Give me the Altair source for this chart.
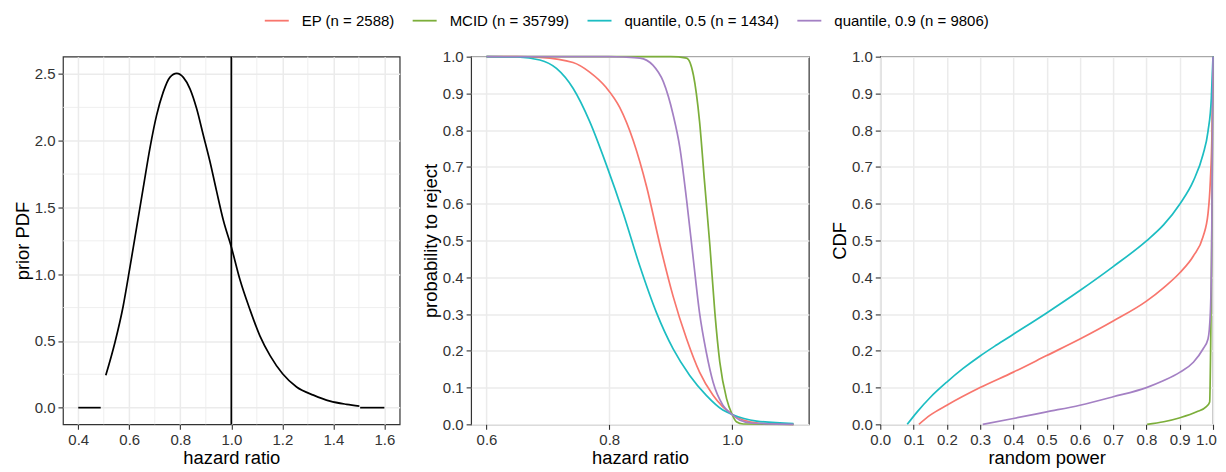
import altair as alt
import pandas as pd

FONT = "Liberation Sans"

SERIES = ["EP (n = 2588)", "MCID (n = 35799)", "quantile, 0.5 (n = 1434)", "quantile, 0.9 (n = 9806)"]
COLORS = ["#F8766D", "#7CAE3A", "#1CBDC2", "#A480C4"]

# ---- left panel: prior PDF ----
PRIOR_HR = [0.508, 0.544, 0.576, 0.603, 0.629, 0.655, 0.681, 0.707, 0.733, 0.759, 0.786,
            0.812, 0.838, 0.864, 0.890, 0.916, 0.942, 0.969, 1.0, 1.034, 1.073, 1.112,
            1.152, 1.201, 1.256, 1.322, 1.387, 1.452, 1.502]
PRIOR_PDF = [0.242, 0.49, 0.76, 1.056, 1.352, 1.65, 1.945, 2.19, 2.364, 2.475, 2.505,
             2.475, 2.389, 2.241, 2.043, 1.846, 1.624, 1.402, 1.204, 0.958, 0.735, 0.538,
             0.39, 0.254, 0.155, 0.094, 0.049, 0.025, 0.012]
LOW_HR = [0.4, 0.488]
LOW_PDF = [0.0, 0.0]
HIGH_HR = [1.505, 1.6]
HIGH_PDF = [0.0, 0.0]
NULL_HR = [1.0]
LEFT_X_TICKS = [0.4, 0.6, 0.8, 1.0, 1.2, 1.4, 1.6]
LEFT_X_MINOR = [0.5, 0.7, 0.9, 1.1, 1.3, 1.5]
LEFT_Y_TICKS = [0.0, 0.5, 1.0, 1.5, 2.0, 2.5]
LEFT_Y_MINOR = [0.25, 0.75, 1.25, 1.75, 2.25]

# ---- middle panel: probability to reject ----
EP_HR = [0.60, 0.65, 0.687, 0.741, 0.768, 0.795, 0.817, 0.839, 0.861, 0.882, 0.904, 0.926,
         0.947, 0.969, 1.0, 1.018, 1.045, 1.10]
EP_REJ = [1.0, 1.0, 0.998, 0.984, 0.958, 0.916, 0.862, 0.772, 0.645, 0.492, 0.348, 0.232,
          0.142, 0.079, 0.027, 0.012, 0.003, 0.0]
MCID_HR = [0.60, 0.90, 0.926, 0.937, 0.947, 0.955, 0.964, 0.972, 0.980, 0.991, 1.0, 1.007,
           1.018, 1.10]
MCID_REJ = [1.0, 1.0, 0.996, 0.95, 0.824, 0.662, 0.483, 0.303, 0.169, 0.07, 0.027, 0.007,
            0.001, 0.0]
Q5_HR = [0.60, 0.65, 0.687, 0.714, 0.741, 0.768, 0.795, 0.823, 0.850, 0.877, 0.904, 0.931,
         0.958, 0.985, 1.0, 1.04, 1.10]
Q5_REJ = [1.0, 0.999, 0.991, 0.968, 0.914, 0.824, 0.707, 0.573, 0.429, 0.303, 0.205, 0.133,
          0.079, 0.039, 0.027, 0.009, 0.002]
Q9_HR = [0.60, 0.80, 0.823, 0.850, 0.871, 0.888, 0.904, 0.915, 0.926, 0.937, 0.947, 0.958,
         0.969, 0.985, 1.0, 1.012, 1.034, 1.10]
Q9_REJ = [1.0, 1.0, 0.999, 0.996, 0.977, 0.932, 0.842, 0.752, 0.609, 0.447, 0.303, 0.196,
          0.115, 0.052, 0.027, 0.012, 0.003, 0.0]
MID_X_TICKS = [0.6, 0.8, 1.0]
PROB_TICKS = [0.0, 0.1, 0.2, 0.3, 0.4, 0.5, 0.6, 0.7, 0.8, 0.9, 1.0]

# ---- right panel: CDF of random power ----
EP_POW = [0.116, 0.150, 0.2, 0.3, 0.4, 0.5, 0.6, 0.7, 0.8, 0.852, 0.901, 0.941, 0.970,
          0.985, 0.992, 0.997, 1.0]
EP_CDF = [0.0, 0.025, 0.052, 0.1, 0.142, 0.187, 0.232, 0.281, 0.335, 0.372, 0.413, 0.458,
          0.51, 0.573, 0.662, 0.797, 1.0]
MCID_POW = [0.802, 0.852, 0.901, 0.951, 0.980, 0.990, 0.993, 0.997, 1.0]
MCID_CDF = [0.0, 0.007, 0.018, 0.034, 0.048, 0.061, 0.214, 0.573, 1.0]
Q5_POW = [0.081, 0.111, 0.150, 0.2, 0.249, 0.3, 0.348, 0.4, 0.5, 0.6, 0.7, 0.8, 0.852,
          0.901, 0.941, 0.970, 0.985, 0.995, 1.0]
Q5_CDF = [0.0, 0.034, 0.073, 0.115, 0.152, 0.186, 0.215, 0.245, 0.303, 0.364, 0.429, 0.499,
          0.543, 0.6, 0.662, 0.734, 0.797, 0.887, 1.0]
Q9_POW = [0.308, 0.4, 0.5, 0.6, 0.7, 0.8, 0.852, 0.901, 0.941, 0.970, 0.985, 0.992, 0.996, 1.0]
Q9_CDF = [0.0, 0.016, 0.034, 0.052, 0.075, 0.1, 0.119, 0.142, 0.169, 0.205, 0.232, 0.303,
          0.483, 1.0]


def long_df(pairs, xname, yname):
    rows = []
    for name, xs, ys in pairs:
        for i, (a, b) in enumerate(zip(xs, ys)):
            rows.append({"series": name, xname: a, yname: b, "i": i})
    return pd.DataFrame(rows)


prior_df = pd.concat([
    pd.DataFrame({"hr": LOW_HR, "pdf": LOW_PDF, "seg": "low"}),
    pd.DataFrame({"hr": PRIOR_HR, "pdf": PRIOR_PDF, "seg": "mid"}),
    pd.DataFrame({"hr": HIGH_HR, "pdf": HIGH_PDF, "seg": "high"}),
], ignore_index=True)
prior_df["i"] = range(len(prior_df))

power_df = long_df([
    (SERIES[0], EP_HR, EP_REJ),
    (SERIES[1], MCID_HR, MCID_REJ),
    (SERIES[2], Q5_HR, Q5_REJ),
    (SERIES[3], Q9_HR, Q9_REJ),
], "hr", "p")

cdf_df = long_df([
    (SERIES[0], EP_POW, EP_CDF),
    (SERIES[1], MCID_POW, MCID_CDF),
    (SERIES[2], Q5_POW, Q5_CDF),
    (SERIES[3], Q9_POW, Q9_CDF),
], "pow", "cdf")

H = 368
GRID = "#EBEBEB"
LW = 1.7

color = alt.Color(
    "series:N",
    scale=alt.Scale(domain=SERIES, range=COLORS),
    legend=alt.Legend(
        title=None, orient="none", direction="horizontal",
        legendX=201, legendY=-49,
        symbolType="stroke", symbolSize=576, symbolStrokeWidth=1.8,
        labelFont=FONT, labelFontSize=15, labelColor="#000000",
        labelOffset=12, columnPadding=14, padding=0, labelLimit=300,
    ),
)

# left panel
lx = alt.X("hr:Q", title="hazard ratio",
           scale=alt.Scale(domain=[0.34, 1.66], nice=False, zero=False),
           axis=alt.Axis(values=LEFT_X_TICKS, format=".1f"))
ly = alt.Y("pdf:Q", title="prior PDF",
           scale=alt.Scale(domain=[-0.125, 2.63], nice=False, zero=False),
           axis=alt.Axis(values=LEFT_Y_TICKS, format=".1f"))

minor_x = alt.Chart(pd.DataFrame({"hr": LEFT_X_MINOR})).mark_rule(
    color=GRID, strokeWidth=0.8).encode(x=alt.X("hr:Q"))
minor_y = alt.Chart(pd.DataFrame({"pdf": LEFT_Y_MINOR})).mark_rule(
    color=GRID, strokeWidth=0.8).encode(y=alt.Y("pdf:Q"))
vline = alt.Chart(pd.DataFrame({"hr": NULL_HR})).mark_rule(
    color="#000000", strokeWidth=LW).encode(x=alt.X("hr:Q"))
prior_line = alt.Chart(prior_df).mark_line(
    color="#000000", strokeWidth=LW, interpolate="monotone").encode(
    x=lx, y=ly, detail="seg:N", order="i:Q")

left = alt.layer(minor_x, minor_y, prior_line, vline).properties(width=337, height=H)

# middle panel
middle = alt.Chart(power_df).mark_line(strokeWidth=LW, interpolate="monotone").encode(
    x=alt.X("hr:Q", title="hazard ratio",
            scale=alt.Scale(domain=[0.575, 1.125], nice=False, zero=False),
            axis=alt.Axis(values=MID_X_TICKS, format=".1f")),
    y=alt.Y("p:Q", title="probability to reject",
            scale=alt.Scale(domain=[0, 1], nice=False),
            axis=alt.Axis(values=PROB_TICKS, format=".1f")),
    color=color,
    detail="series:N",
    order="i:Q",
).properties(width=338, height=H)

# right panel (last x label nudged so it stays inside the window)
right = alt.Chart(cdf_df).mark_line(strokeWidth=LW, interpolate="monotone").encode(
    x=alt.X("pow:Q", title="random power",
            scale=alt.Scale(domain=[0, 1], nice=False),
            axis=alt.Axis(values=PROB_TICKS, format=".1f",
                          labelOffset=alt.condition("datum.value >= 1", alt.value(-7),
                                                    alt.value(0)))),
    y=alt.Y("cdf:Q", title="CDF",
            scale=alt.Scale(domain=[0, 1], nice=False),
            axis=alt.Axis(values=PROB_TICKS, format=".1f")),
    color=color,
    detail="series:N",
    order="i:Q",
).properties(width=333, height=H)

chart = alt.hconcat(left, middle, right, spacing=20.5).resolve_scale(
    color="shared"
).properties(
    padding={"left": 5, "top": -0.5, "right": 0, "bottom": 0}
).configure_view(
    stroke="#333333", strokeWidth=1.2
).configure_axis(
    labelFont=FONT, labelFontSize=15, labelColor="#333333",
    titleFont=FONT, titleFontSize=18.4, titleColor="#000000", titleFontWeight="normal",
    tickColor="#333333", tickSize=5, tickWidth=1.1,
    domain=False, gridColor=GRID, gridWidth=1.5,
    labelPadding=3, titlePadding=1.5, labelFlush=False, labelOverlap=False,
)

chart.save("out.html", embed_options={"renderer": "svg", "actions": False})
